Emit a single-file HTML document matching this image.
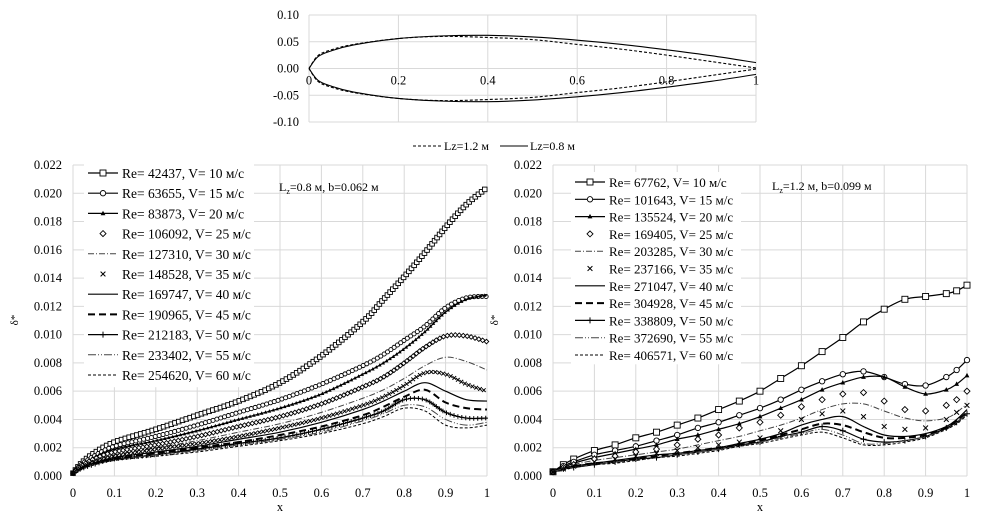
<!DOCTYPE html>
<html><head><meta charset="utf-8">
<style>
body{margin:0;background:#fff;}
svg{display:block;font-family:"Liberation Serif",serif;}
</style></head>
<body>
<svg id="root" width="1005" height="516" viewBox="0 0 1005 516" xmlns="http://www.w3.org/2000/svg">
<g id="top"></g>
<g id="left"></g>
<g id="right"></g>
</svg>
<script>
// ---- Airfoil data ----
const foilX = [0,0.02,0.05,0.1,0.2,0.3,0.4,0.5,0.6,0.7,0.8,0.9,1];
const foilUpper08 = [0,0.022,0.033,0.044,0.056,0.061,0.062,0.059,0.053,0.045,0.035,0.024,0.011];
const foilLower08 = [0,-0.022,-0.033,-0.044,-0.056,-0.061,-0.062,-0.059,-0.053,-0.045,-0.035,-0.024,-0.011];
const foilUpper12 = [0,0.024,0.035,0.045,0.056,0.060,0.058,0.054,0.045,0.036,0.025,0.013,0.001];
const foilLower12 = [0,-0.024,-0.035,-0.045,-0.056,-0.060,-0.058,-0.054,-0.045,-0.036,-0.025,-0.013,-0.001];
const foilYTicks = ["0.10","0.05","0.00","-0.05","-0.10"];
const foilXTicks = ["0","0.2","0.4","0.6","0.8","1"];

// ---- Left chart (Lz=0.8) values in 1e-3 ----
const leftX = [0,0.02,0.05,0.1,0.2,0.3,0.4,0.5,0.6,0.7,0.75,0.8,0.85,0.9,0.95,1];
const leftS1 = [.2,.9,1.6,2.4,3.3,4.3,5.3,6.6,8.5,10.9,12.5,14.1,15.8,17.6,19.2,20.4];
const leftS2 = [.2,.8,1.4,2.1,2.8,3.6,4.5,5.4,6.5,7.8,8.6,9.6,10.6,11.9,12.6,12.7];
const leftS3 = [.2,.7,1.3,1.9,2.5,3.2,4.0,4.8,5.8,7.2,8.0,9.0,10.2,11.6,12.5,12.8];
const leftS4 = [.2,.7,1.2,1.7,2.2,2.8,3.5,4.2,5.1,6.3,7.0,8.0,9.1,9.9,9.9,9.5];
const leftS5 = [.2,.6,1.1,1.5,2.0,2.5,3.1,3.7,4.5,5.5,6.1,6.9,7.8,8.4,8.1,7.5];
const leftS6 = [.2,.6,1.0,1.4,1.9,2.3,2.8,3.4,4.1,5.0,5.6,6.4,7.3,7.2,6.5,6.0];
const leftS7 = [.2,.6,.9,1.3,1.7,2.1,2.6,3.1,3.8,4.7,5.3,6.0,6.6,6.0,5.4,5.3];
const leftS8 = [.2,.5,.9,1.2,1.6,2.0,2.4,2.9,3.5,4.3,4.9,5.6,6.1,5.2,4.8,4.7];
const leftS9 = [.2,.5,.8,1.2,1.5,1.9,2.3,2.7,3.3,4.1,4.6,5.4,5.4,4.5,4.1,4.1];
const leftS10 = [.2,.5,.8,1.1,1.5,1.8,2.2,2.6,3.1,3.9,4.4,5.0,4.9,4.0,3.6,3.8];
const leftS11 = [.2,.5,.8,1.1,1.4,1.7,2.1,2.5,3.0,3.7,4.2,4.8,4.6,3.6,3.4,3.6];
const leftLabels = ["Re= 42437, V= 10 м/с","Re= 63655, V= 15 м/с","Re= 83873, V= 20 м/с","Re= 106092, V= 25 м/с","Re= 127310, V= 30 м/с","Re= 148528, V= 35 м/с","Re= 169747, V= 40 м/с","Re= 190965, V= 45 м/с","Re= 212183, V= 50 м/с","Re= 233402, V= 55 м/с","Re= 254620, V= 60 м/с"];

// ---- Right chart (Lz=1.2) values in 1e-3 ----
const rightX = [0,.025,.05,.1,.15,.2,.25,.3,.35,.4,.45,.5,.55,.6,.65,.7,.75,.8,.85,.9,.95,.975,1];
const rightS1 = [.3,.8,1.2,1.8,2.2,2.7,3.1,3.6,4.1,4.7,5.3,6.0,6.9,7.8,8.8,9.8,10.9,11.8,12.5,12.7,12.9,13.1,13.5];
const rightS2 = [.3,.7,1.0,1.5,1.8,2.1,2.5,2.9,3.4,3.8,4.3,4.8,5.4,6.1,6.7,7.2,7.4,7.0,6.5,6.4,7.0,7.5,8.2];
const rightS3 = [.3,.6,.9,1.3,1.6,1.9,2.2,2.6,2.9,3.3,3.7,4.2,4.8,5.4,6.1,6.6,7.0,7.0,6.3,5.8,6.1,6.5,7.1];
const rightS4 = [.3,.6,.8,1.2,1.4,1.7,1.9,2.2,2.6,2.9,3.4,3.8,4.3,4.9,5.4,5.8,5.9,5.3,4.7,4.6,5.0,5.4,6.0];
const rightS5 = [.3,.5,.8,1.1,1.3,1.5,1.7,1.9,2.2,2.5,2.8,3.2,3.6,4.1,4.7,5.1,5.1,4.6,4.1,3.9,4.1,4.5,5.1];
const rightS6 = [.3,.5,.7,1.0,1.2,1.4,1.6,1.8,2.0,2.2,2.4,2.7,3.2,4.0,4.4,4.6,4.2,3.5,3.3,3.4,4.0,4.5,5.0];
const rightS7 = [.3,.5,.7,.9,1.1,1.3,1.5,1.6,1.8,2.0,2.3,2.6,3.0,3.6,4.0,4.2,3.5,2.9,2.8,3.0,3.5,4.0,4.7];
const rightS8 = [.3,.5,.7,.9,1.0,1.2,1.4,1.6,1.8,2.0,2.2,2.5,2.9,3.3,3.7,3.6,3.1,2.7,2.7,2.9,3.4,3.9,4.5];
const rightS9 = [.3,.5,.6,.8,1.0,1.2,1.3,1.5,1.7,1.9,2.2,2.4,2.8,3.1,3.5,3.2,2.6,2.4,2.5,2.8,3.4,3.8,4.4];
const rightS10 = [.3,.5,.6,.8,1.0,1.1,1.3,1.5,1.7,1.9,2.1,2.4,2.7,3.0,3.3,2.9,2.3,2.3,2.5,2.8,3.3,3.8,4.4];
const rightS11 = [.3,.4,.6,.8,.9,1.1,1.3,1.4,1.6,1.8,2.1,2.3,2.6,2.9,3.1,2.7,2.2,2.2,2.4,2.7,3.3,3.7,4.3];
const rightLabels = ["Re= 67762, V= 10 м/с","Re= 101643, V= 15 м/с","Re= 135524, V= 20 м/с","Re= 169405, V= 25 м/с","Re= 203285, V= 30 м/с","Re= 237166, V= 35 м/с","Re= 271047, V= 40 м/с","Re= 304928, V= 45 м/с","Re= 338809, V= 50 м/с","Re= 372690, V= 55 м/с","Re= 406571, V= 60 м/с"];

const yTicks = ["0.000","0.002","0.004","0.006","0.008","0.010","0.012","0.014","0.016","0.018","0.020","0.022"];
const xTicks = ["0","0.1","0.2","0.3","0.4","0.5","0.6","0.7","0.8","0.9","1"];

const NS="http://www.w3.org/2000/svg";
function el(tag, attrs, parent){const e=document.createElementNS(NS,tag);for(const k in attrs)e.setAttribute(k,attrs[k]);parent.appendChild(e);return e;}
function smoothPath(pts){
  let d=`M${pts[0][0]},${pts[0][1]}`;
  for(let i=0;i<pts.length-1;i++){
    const p0=pts[Math.max(0,i-1)],p1=pts[i],p2=pts[i+1],p3=pts[Math.min(pts.length-1,i+2)];
    const c1=[p1[0]+(p2[0]-p0[0])/6,p1[1]+(p2[1]-p0[1])/6];
    const c2=[p2[0]-(p3[0]-p1[0])/6,p2[1]-(p3[1]-p1[1])/6];
    d+=` C${c1[0]},${c1[1]} ${c2[0]},${c2[1]} ${p2[0]},${p2[1]}`;
  }
  return d;
}
function marker(type,x,y,g,s){
  s=s||3;
  let m;
  if(type==='sq') m=el('rect',{x:x-s,y:y-s,width:2*s,height:2*s,fill:'#fff',stroke:'#000','stroke-width':0.9},g);
  else if(type==='ci') m=el('circle',{cx:x,cy:y,r:s*0.9,fill:'#fff',stroke:'#000','stroke-width':0.9},g);
  else if(type==='tr') m=el('path',{d:`M${x},${y-s*0.9}L${x+s*0.8},${y+s*0.6}L${x-s*0.8},${y+s*0.6}Z`,fill:'#000'},g);
  else if(type==='di') m=el('path',{d:`M${x},${y-s}L${x+s},${y}L${x},${y+s}L${x-s},${y}Z`,fill:'#fff',stroke:'#000','stroke-width':0.9},g);
  else if(type==='x') m=el('path',{d:`M${x-s*0.8},${y-s*0.8}L${x+s*0.8},${y+s*0.8}M${x+s*0.8},${y-s*0.8}L${x-s*0.8},${y+s*0.8}`,stroke:'#000','stroke-width':1},g);
  else if(type==='pl') m=el('path',{d:`M${x-s},${y}L${x+s},${y}M${x},${y-s}L${x},${y+s}`,stroke:'#000','stroke-width':1},g);
  if(m){}
}
const styles=[
 {line:true,dash:'',w:1.2,mk:'sq',c:'#000'},
 {line:true,dash:'',w:1.2,mk:'ci',c:'#000'},
 {line:true,dash:'',w:1.2,mk:'tr',c:'#000'},
 {line:false,mk:'di'},
 {line:true,dash:'6,2,1,2',w:1,mk:null,c:'#444'},
 {line:false,mk:'x'},
 {line:true,dash:'',w:1.2,mk:null,c:'#000'},
 {line:true,dash:'7,4',w:2,mk:null,c:'#000'},
 {line:true,dash:'',w:1.2,mk:'pl',c:'#000'},
 {line:true,dash:'8,2,1,2,1,2',w:1,mk:null,c:'#444'},
 {line:true,dash:'3,2',w:1,mk:null,c:'#000'}
];

// ---- Top airfoil chart ----
(function(){
  const g=document.getElementById('top');
  const x0=309,x1=756,yTop=15,yBot=122;
  const sx=v=>x0+v*(x1-x0), sy=v=>yTop+(0.10-v)/0.20*(yBot-yTop);
  for(let i=0;i<foilYTicks.length;i++){
    const v=parseFloat(foilYTicks[i]);
    const gl=el('line',{x1:x0,x2:x1,y1:sy(v),y2:sy(v),stroke:'#d9d9d9','stroke-width':1},g);
    
    const t=el('text',{x:299,y:sy(v)+4,'text-anchor':'end','font-size':12.5},g);t.textContent=foilYTicks[i];
    
  }
  for(let i=0;i<foilXTicks.length;i++){
    const v=parseFloat(foilXTicks[i]);
    const gl=el('line',{x1:sx(v),x2:sx(v),y1:yTop,y2:yBot,stroke:'#d9d9d9','stroke-width':1},g);
    
    const t=el('text',{x:sx(v),y:sy(0)+16,'text-anchor':'middle','font-size':12.5},g);t.textContent=foilXTicks[i];
    
  }
  const series=[[foilUpper12,'3,2'],[foilLower12,'3,2'],[foilUpper08,''],[foilLower08,'']];
  series.forEach(s=>{
    const pts=foilX.map((x,i)=>[sx(x),sy(s[0][i])]);
    const p=el('path',{d:smoothPath(pts),fill:'none',stroke:'#000','stroke-width':1.1,'stroke-dasharray':s[1]},g);
    
  });
  const lg=el('g',{},g);
  el('line',{x1:413,x2:441,y1:146,y2:146,stroke:'#000','stroke-dasharray':'3,2'},lg);
  let t=el('text',{x:444,y:150,'font-size':12},lg);t.textContent='Lz=1.2 м';
  el('line',{x1:500,x2:528,y1:146,y2:146,stroke:'#000'},lg);
  t=el('text',{x:530,y:150,'font-size':12},lg);t.textContent='Lz=0.8 м';
})();

function drawChart(gid,X,S,labels,x0,x1,yLabX,leg,ann,dense){
  const g=document.getElementById(gid);
  const yTop=165,yBot=476;
  const sx=v=>x0+v*(x1-x0), sy=v=>yBot-(v/22)*(yBot-yTop);
  for(let i=0;i<yTicks.length;i++){
    const v=parseFloat(yTicks[i])*1000;
    const gl=el('line',{x1:x0,x2:x1,y1:sy(v),y2:sy(v),stroke:'#d9d9d9','stroke-width':1},g);
    
    const t=el('text',{x:yLabX,y:sy(v)+4,'text-anchor':'end','font-size':12.5},g);t.textContent=yTicks[i];
    
  }
  for(let i=0;i<xTicks.length;i++){
    const v=parseFloat(xTicks[i]);
    const gl=el('line',{x1:sx(v),x2:sx(v),y1:yTop,y2:yBot,stroke:'#d9d9d9','stroke-width':1},g);
    
    const t=el('text',{x:sx(v),y:497,'text-anchor':'middle','font-size':12.5},g);t.textContent=xTicks[i];
    
  }
  let t=el('text',{x:(x0+x1)/2,y:511,'text-anchor':'middle','font-size':12.5},g);t.textContent='x';
  
  t=el('text',{x:0,y:0,'text-anchor':'middle','font-size':11,transform:`translate(${x0-55},320) rotate(-90)`},g);t.textContent='δ*';
  
  S.forEach((vals,si)=>{
    const st=styles[si];
    const sg=el('g',{},g);
    const pts=X.map((x,i)=>[sx(x),sy(vals[i])]);
    const d=smoothPath(pts);
    const p=el('path',{d:d,fill:'none',stroke:st.line?st.c:'none','stroke-width':st.w||1,'stroke-dasharray':st.dash||''},sg);
    
    if(st.mk){
      if(dense){
        const L=p.getTotalLength();
        for(let l=0;l<=L;l+=4){const q=p.getPointAtLength(l);marker(st.mk,q.x,q.y,sg,2.3);}
      } else pts.forEach(q=>marker(st.mk,q[0],q[1],sg,3));
    }
  });
  const lg=el('g',{},g);
  el('rect',{x:leg.x-4,y:leg.y-10,width:leg.w,height:leg.step*11+2,fill:'#fff'},lg);
  labels.forEach((lab,i)=>{
    const st=styles[i];const y=leg.y+i*leg.step;
    const e=el('g',{},lg);
    if(st.line) el('line',{x1:leg.x,x2:leg.x+30,y1:y,y2:y,stroke:st.c,'stroke-width':st.w,'stroke-dasharray':st.dash},e);
    if(st.mk) marker(st.mk,leg.x+15,y,e,3);
    const tt=el('text',{x:leg.x+34,y:y+5,'font-size':leg.fs},e);tt.textContent=lab;
  });
  const a=el('text',{x:ann.x,y:ann.y,'font-size':12},g);
  
  a.innerHTML='L<tspan font-size="8" dy="3">z</tspan><tspan dy="-3">'+ann.t+'</tspan>';
}
drawChart('left',leftX,[leftS1,leftS2,leftS3,leftS4,leftS5,leftS6,leftS7,leftS8,leftS9,leftS10,leftS11],leftLabels,73,487,62,{x:88,y:173,step:20.2,w:170,fs:13.5},{x:279,y:191,t:'=0.8 м, b=0.062 м'},true);
drawChart('right',rightX,[rightS1,rightS2,rightS3,rightS4,rightS5,rightS6,rightS7,rightS8,rightS9,rightS10,rightS11],rightLabels,553,967,542,{x:575,y:182,step:17.3,w:170,fs:13},{x:772,y:190,t:'=1.2 м, b=0.099 м'},false);
</script>
</body></html>
